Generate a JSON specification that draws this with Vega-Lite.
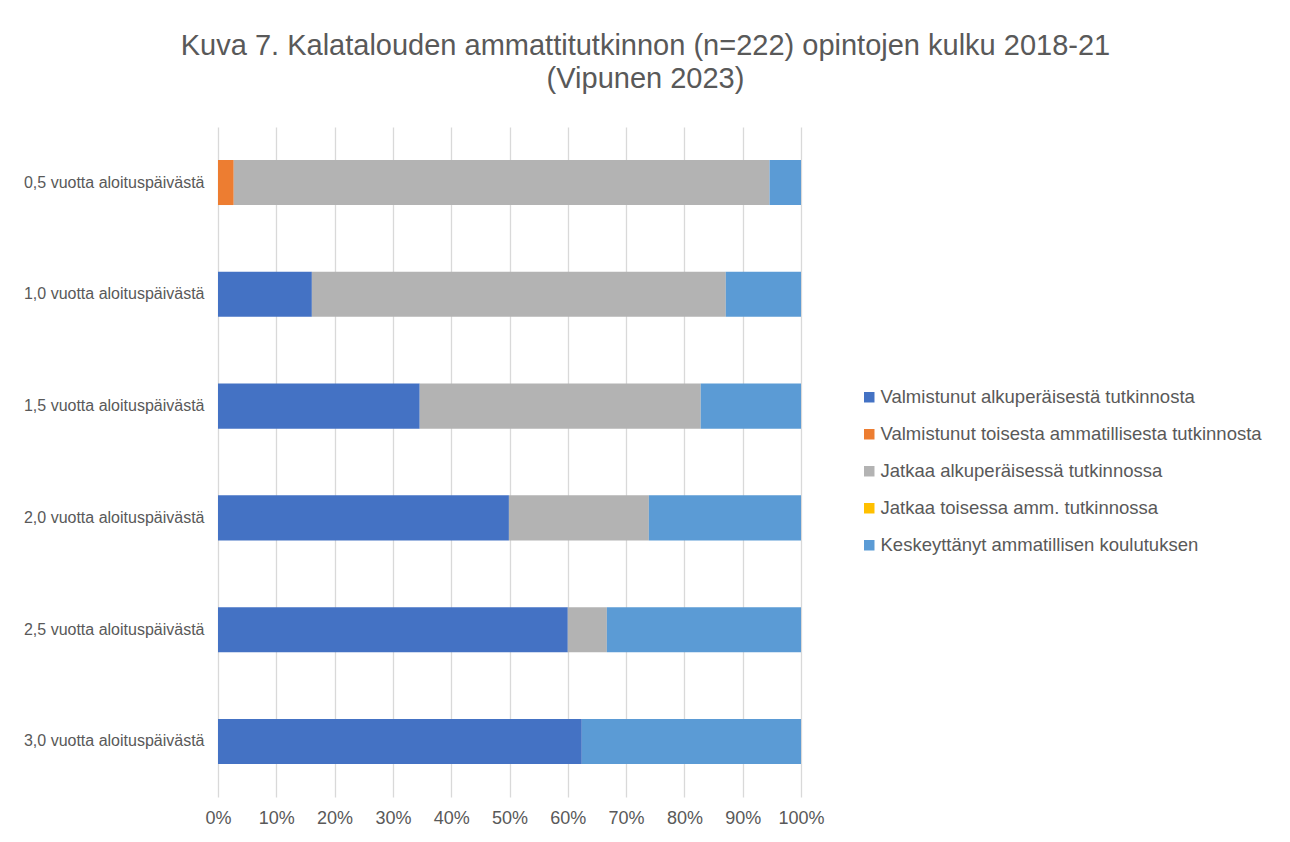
{
  "$schema": "https://vega.github.io/schema/vega-lite/v6.json",
  "autosize": "none",
  "width": 583,
  "height": 670,
  "padding": {"left": 218, "top": 127, "right": 489, "bottom": 45},
  "background": "white",
  "title": {
    "text": ["Kuva 7. Kalatalouden ammattitutkinnon (n=222) opintojen kulku 2018-21", "(Vipunen 2023)"],
    "anchor": "middle",
    "frame": "group",
    "dx": 136,
    "offset": 33,
    "font": "Liberation Sans",
    "fontSize": 29,
    "fontWeight": "normal",
    "lineHeight": 33,
    "color": "#595959"
  },
  "config": {
    "view": {"stroke": null},
    "font": "Liberation Sans"
  },
  "data": {
    "values": [
      {"aika": "0,5 vuotta aloituspäivästä", "nro": 1, "tila": "Valmistunut alkuperäisestä tutkinnosta", "osuus": 0.0},
      {"aika": "0,5 vuotta aloituspäivästä", "nro": 2, "tila": "Valmistunut toisesta ammatillisesta tutkinnosta", "osuus": 0.027},
      {"aika": "0,5 vuotta aloituspäivästä", "nro": 3, "tila": "Jatkaa alkuperäisessä tutkinnossa", "osuus": 0.919},
      {"aika": "0,5 vuotta aloituspäivästä", "nro": 4, "tila": "Jatkaa toisessa amm. tutkinnossa", "osuus": 0.0},
      {"aika": "0,5 vuotta aloituspäivästä", "nro": 5, "tila": "Keskeyttänyt ammatillisen koulutuksen", "osuus": 0.054},
      {"aika": "1,0 vuotta aloituspäivästä", "nro": 1, "tila": "Valmistunut alkuperäisestä tutkinnosta", "osuus": 0.161},
      {"aika": "1,0 vuotta aloituspäivästä", "nro": 2, "tila": "Valmistunut toisesta ammatillisesta tutkinnosta", "osuus": 0.0},
      {"aika": "1,0 vuotta aloituspäivästä", "nro": 3, "tila": "Jatkaa alkuperäisessä tutkinnossa", "osuus": 0.710},
      {"aika": "1,0 vuotta aloituspäivästä", "nro": 4, "tila": "Jatkaa toisessa amm. tutkinnossa", "osuus": 0.0},
      {"aika": "1,0 vuotta aloituspäivästä", "nro": 5, "tila": "Keskeyttänyt ammatillisen koulutuksen", "osuus": 0.129},
      {"aika": "1,5 vuotta aloituspäivästä", "nro": 1, "tila": "Valmistunut alkuperäisestä tutkinnosta", "osuus": 0.346},
      {"aika": "1,5 vuotta aloituspäivästä", "nro": 2, "tila": "Valmistunut toisesta ammatillisesta tutkinnosta", "osuus": 0.0},
      {"aika": "1,5 vuotta aloituspäivästä", "nro": 3, "tila": "Jatkaa alkuperäisessä tutkinnossa", "osuus": 0.482},
      {"aika": "1,5 vuotta aloituspäivästä", "nro": 4, "tila": "Jatkaa toisessa amm. tutkinnossa", "osuus": 0.0},
      {"aika": "1,5 vuotta aloituspäivästä", "nro": 5, "tila": "Keskeyttänyt ammatillisen koulutuksen", "osuus": 0.172},
      {"aika": "2,0 vuotta aloituspäivästä", "nro": 1, "tila": "Valmistunut alkuperäisestä tutkinnosta", "osuus": 0.499},
      {"aika": "2,0 vuotta aloituspäivästä", "nro": 2, "tila": "Valmistunut toisesta ammatillisesta tutkinnosta", "osuus": 0.0},
      {"aika": "2,0 vuotta aloituspäivästä", "nro": 3, "tila": "Jatkaa alkuperäisessä tutkinnossa", "osuus": 0.240},
      {"aika": "2,0 vuotta aloituspäivästä", "nro": 4, "tila": "Jatkaa toisessa amm. tutkinnossa", "osuus": 0.0},
      {"aika": "2,0 vuotta aloituspäivästä", "nro": 5, "tila": "Keskeyttänyt ammatillisen koulutuksen", "osuus": 0.261},
      {"aika": "2,5 vuotta aloituspäivästä", "nro": 1, "tila": "Valmistunut alkuperäisestä tutkinnosta", "osuus": 0.600},
      {"aika": "2,5 vuotta aloituspäivästä", "nro": 2, "tila": "Valmistunut toisesta ammatillisesta tutkinnosta", "osuus": 0.0},
      {"aika": "2,5 vuotta aloituspäivästä", "nro": 3, "tila": "Jatkaa alkuperäisessä tutkinnossa", "osuus": 0.067},
      {"aika": "2,5 vuotta aloituspäivästä", "nro": 4, "tila": "Jatkaa toisessa amm. tutkinnossa", "osuus": 0.0},
      {"aika": "2,5 vuotta aloituspäivästä", "nro": 5, "tila": "Keskeyttänyt ammatillisen koulutuksen", "osuus": 0.333},
      {"aika": "3,0 vuotta aloituspäivästä", "nro": 1, "tila": "Valmistunut alkuperäisestä tutkinnosta", "osuus": 0.624},
      {"aika": "3,0 vuotta aloituspäivästä", "nro": 2, "tila": "Valmistunut toisesta ammatillisesta tutkinnosta", "osuus": 0.0},
      {"aika": "3,0 vuotta aloituspäivästä", "nro": 3, "tila": "Jatkaa alkuperäisessä tutkinnossa", "osuus": 0.0},
      {"aika": "3,0 vuotta aloituspäivästä", "nro": 4, "tila": "Jatkaa toisessa amm. tutkinnossa", "osuus": 0.0},
      {"aika": "3,0 vuotta aloituspäivästä", "nro": 5, "tila": "Keskeyttänyt ammatillisen koulutuksen", "osuus": 0.376}
    ]
  },
  "mark": {"type": "bar"},
  "encoding": {
    "y": {
      "field": "aika",
      "type": "nominal",
      "sort": null,
      "scale": {"paddingInner": 0.597, "paddingOuter": 0.295},
      "axis": {
        "title": null,
        "domain": false,
        "ticks": false,
        "grid": false,
        "labelPadding": 14,
        "labelFontSize": 16,
        "labelLimit": 400,
        "labelColor": "#595959",
        "labelFont": "Liberation Sans"
      }
    },
    "x": {
      "field": "osuus",
      "type": "quantitative",
      "stack": "zero",
      "scale": {"domain": [0, 1], "nice": false},
      "axis": {
        "title": null,
        "format": ".0%",
        "values": [0, 0.1, 0.2, 0.3, 0.4, 0.5, 0.6, 0.7, 0.8, 0.9, 1],
        "labelOverlap": false,
        "labelFlush": false,
        "domain": false,
        "ticks": false,
        "grid": true,
        "gridColor": "#D9D9D9",
        "gridWidth": 1.3,
        "labelPadding": 12,
        "labelFontSize": 18,
        "labelColor": "#595959",
        "labelFont": "Liberation Sans"
      }
    },
    "color": {
      "field": "tila",
      "type": "nominal",
      "sort": ["Valmistunut alkuperäisestä tutkinnosta", "Valmistunut toisesta ammatillisesta tutkinnosta", "Jatkaa alkuperäisessä tutkinnossa", "Jatkaa toisessa amm. tutkinnossa", "Keskeyttänyt ammatillisen koulutuksen"],
      "scale": {
        "domain": ["Valmistunut alkuperäisestä tutkinnosta", "Valmistunut toisesta ammatillisesta tutkinnosta", "Jatkaa alkuperäisessä tutkinnossa", "Jatkaa toisessa amm. tutkinnossa", "Keskeyttänyt ammatillisen koulutuksen"],
        "range": ["#4472C4", "#ED7D31", "#B3B3B3", "#FFC000", "#5B9BD5"]
      },
      "legend": {
        "title": null,
        "orient": "none",
        "legendX": 642,
        "legendY": 261,
        "symbolType": "square",
        "symbolSize": 110,
        "symbolStrokeWidth": 0,
        "symbolOpacity": 1,
        "labelFontSize": 18.5,
        "labelColor": "#595959",
        "labelFont": "Liberation Sans",
        "labelOffset": 2,
        "rowPadding": 18,
        "labelLimit": 500
      }
    },
    "order": {"field": "nro", "type": "quantitative", "sort": "ascending"}
  }
}
